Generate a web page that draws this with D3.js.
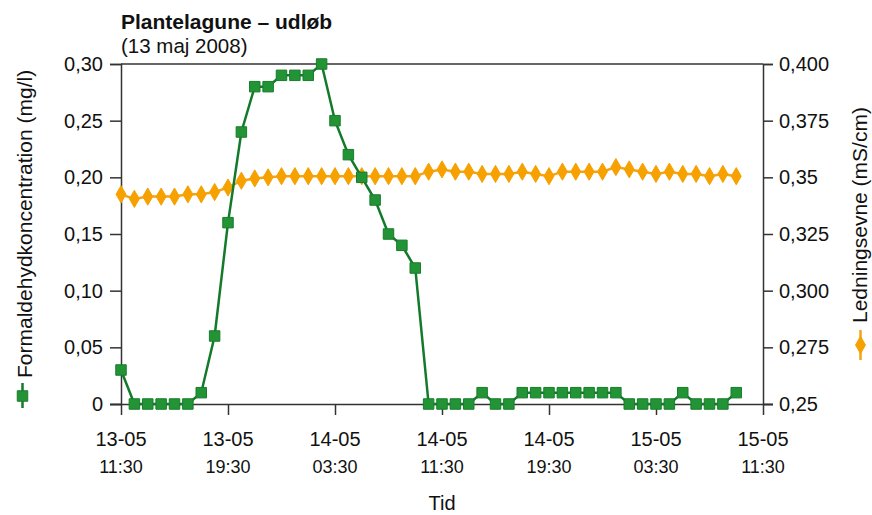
<!DOCTYPE html>
<html>
<head>
<meta charset="utf-8">
<script src="https://cdn.jsdelivr.net/npm/d3@7"></script>
<style>
  html, body { margin: 0; padding: 0; background: #fff; }
  svg { display: block; font-family: "Liberation Sans", Arial, Helvetica, sans-serif; }
</style>
</head>
<body>
<svg id="chart" width="872" height="515"></svg>
<script>
// ---- Data ----
const titleText = "Plantelagune – udløb";
const subtitleText = "(13 maj 2008)";
const startTime = "2008-05-13T11:30";
const endTime = "2008-05-15T11:30";
// hourly samples starting 13-05 11:30
const formaldehyd = [
  0.03, 0, 0, 0, 0, 0, 0.01, 0.06, 0.16, 0.24,
  0.28, 0.28, 0.29, 0.29, 0.29, 0.30, 0.25, 0.22, 0.20, 0.18,
  0.15, 0.14, 0.12, 0, 0, 0, 0, 0.01, 0, 0,
  0.01, 0.01, 0.01, 0.01, 0.01, 0.01, 0.01, 0.01, 0, 0,
  0, 0, 0.01, 0, 0, 0, 0.01
];
const ledningsevne = [
  0.3425, 0.3405, 0.3415, 0.3415, 0.3415, 0.3425, 0.3425, 0.3435, 0.3455, 0.3485,
  0.3495, 0.3500, 0.3505, 0.3505, 0.3505, 0.3505, 0.3505, 0.3505, 0.3505, 0.3505,
  0.3505, 0.3505, 0.3505, 0.3525, 0.3535, 0.3525, 0.3525, 0.3515, 0.3515, 0.3515,
  0.3525, 0.3515, 0.3505, 0.3525, 0.3525, 0.3525, 0.3525, 0.3545, 0.3535, 0.3525,
  0.3515, 0.3525, 0.3515, 0.3515, 0.3505, 0.3515, 0.3505
];
const leftTicks = [0, 0.05, 0.10, 0.15, 0.20, 0.25, 0.30];
const leftTickLabels = ["0", "0,05", "0,10", "0,15", "0,20", "0,25", "0,30"];
const rightTicks = [0.25, 0.275, 0.30, 0.325, 0.35, 0.375, 0.40];
const rightTickLabels = ["0,25", "0,275", "0,300", "0,325", "0,35", "0,375", "0,400"];
const xTickHours = [0, 8, 16, 24, 32, 40, 48];
const leftTitle = "Formaldehydkoncentration (mg/l)";
const rightTitle = "Ledningsevne (mS/cm)";
const xTitle = "Tid";

// ---- Layout ----
const L = 121, R = 763, T = 64, B = 404;
const greenLine = "#137a2b", greenFill = "#229436", greenStroke = "#187d2c";
const orangeLine = "#f5a316", orangeFill = "#f6a100";
const axisColor = "#333";
const textColor = "#111";

const svg = d3.select("#chart");
const parse = d3.timeParse("%Y-%m-%dT%H:%M");
const t0 = parse(startTime), t1 = parse(endTime);
const times = formaldehyd.map((_, i) => d3.timeHour.offset(t0, i));

const x = d3.scaleTime().domain([t0, t1]).range([L, R]);
const yL = d3.scaleLinear().domain([0, 0.30]).range([B, T]);
const yR = d3.scaleLinear().domain([0.25, 0.40]).range([B, T]);

// Top frame line
svg.append("line").attr("x1", L).attr("x2", R).attr("y1", T).attr("y2", T)
  .attr("stroke", axisColor).attr("stroke-width", 1.5);

// Left axis
const gL = svg.append("g").attr("transform", `translate(${L},0)`)
  .call(d3.axisLeft(yL).tickValues(leftTicks).tickSize(11).tickPadding(7)
    .tickFormat((d, i) => leftTickLabels[i]));
// Right axis
const gR = svg.append("g").attr("transform", `translate(${R},0)`)
  .call(d3.axisRight(yR).tickValues(rightTicks).tickSize(10).tickPadding(6)
    .tickFormat((d, i) => rightTickLabels[i]));
// Bottom axis
const xTicks = xTickHours.map(h => d3.timeHour.offset(t0, h));
const gB = svg.append("g").attr("transform", `translate(0,${B})`)
  .call(d3.axisBottom(x).tickValues(xTicks).tickSize(11).tickFormat(""));

[gL, gR, gB].forEach(g => {
  g.select(".domain").attr("stroke", axisColor).attr("stroke-width", 1.5);
  g.selectAll(".tick line").attr("stroke", axisColor).attr("stroke-width", 1.5);
  g.selectAll(".tick text").attr("fill", textColor).style("font-size", "20px")
    .style("font-family", "'Liberation Sans', Arial, sans-serif");
});
gB.select(".domain").attr("d", `M${L - 11},0.5H${R + 10}`);

// two-line x tick labels
const fmtDay = d3.timeFormat("%d-%m"), fmtTime = d3.timeFormat("%H:%M");
const xl = svg.append("g");
xl.selectAll("text.day").data(xTicks).join("text")
  .attr("x", d => x(d)).attr("y", 446).attr("text-anchor", "middle")
  .attr("fill", textColor).style("font-size", "20px").text(d => fmtDay(d));
xl.selectAll("text.tm").data(xTicks).join("text")
  .attr("x", d => x(d)).attr("y", 473).attr("text-anchor", "middle")
  .attr("fill", textColor).style("font-size", "18px").text(d => fmtTime(d));

svg.append("text").attr("x", (L + R) / 2).attr("y", 510).attr("text-anchor", "middle")
  .attr("fill", textColor).style("font-size", "20px").text(xTitle);

// Titles
svg.append("text").attr("x", L).attr("y", 29).attr("fill", textColor)
  .style("font-size", "21px").style("font-weight", "bold").text(titleText);
svg.append("text").attr("x", L).attr("y", 53).attr("fill", textColor)
  .style("font-size", "20.5px").text(subtitleText);

// Axis titles with legend markers
svg.append("text").attr("transform", "translate(31.5,378) rotate(-90)")
  .attr("fill", textColor).style("font-size", "21px").text(leftTitle);
svg.append("text").attr("transform", "translate(866.5,323) rotate(-90)")
  .attr("fill", textColor).style("font-size", "21px").text(rightTitle);

const symSq = d3.symbol().type(d3.symbolSquare).size(110);
const symDi = d3.symbol().type(d3.symbolDiamond).size(85);

svg.append("line").attr("x1", 22.5).attr("x2", 22.5).attr("y1", 383).attr("y2", 408)
  .attr("stroke", greenLine).attr("stroke-width", 2.5);
svg.append("path").attr("d", symSq).attr("transform", "translate(22.5,396)")
  .attr("fill", greenFill).attr("stroke", greenStroke).attr("stroke-width", 1);

svg.append("line").attr("x1", 860.5).attr("x2", 860.5).attr("y1", 330).attr("y2", 360)
  .attr("stroke", orangeLine).attr("stroke-width", 2.5);
svg.append("path").attr("d", symDi).attr("transform", "translate(860.5,345)")
  .attr("fill", orangeFill).attr("stroke", orangeFill).attr("stroke-width", 1);

// Orange series
const oData = ledningsevne.map((v, i) => ({ t: times[i], v }));
svg.append("path").datum(oData)
  .attr("d", d3.line().x(d => x(d.t)).y(d => yR(d.v)))
  .attr("fill", "none").attr("stroke", orangeLine).attr("stroke-width", 2.5);
svg.append("g").selectAll("path").data(oData).join("path")
  .attr("d", symDi).attr("transform", d => `translate(${x(d.t)},${yR(d.v)})`)
  .attr("fill", orangeFill).attr("stroke", orangeFill).attr("stroke-width", 1);

// Green series
const gData = formaldehyd.map((v, i) => ({ t: times[i], v }));
svg.append("path").datum(gData)
  .attr("d", d3.line().x(d => x(d.t)).y(d => yL(d.v)))
  .attr("fill", "none").attr("stroke", greenLine).attr("stroke-width", 2.5);
svg.append("g").selectAll("path").data(gData).join("path")
  .attr("d", symSq).attr("transform", d => `translate(${x(d.t)},${yL(d.v)})`)
  .attr("fill", greenFill).attr("stroke", greenStroke).attr("stroke-width", 1);
</script>
</body>
</html>
